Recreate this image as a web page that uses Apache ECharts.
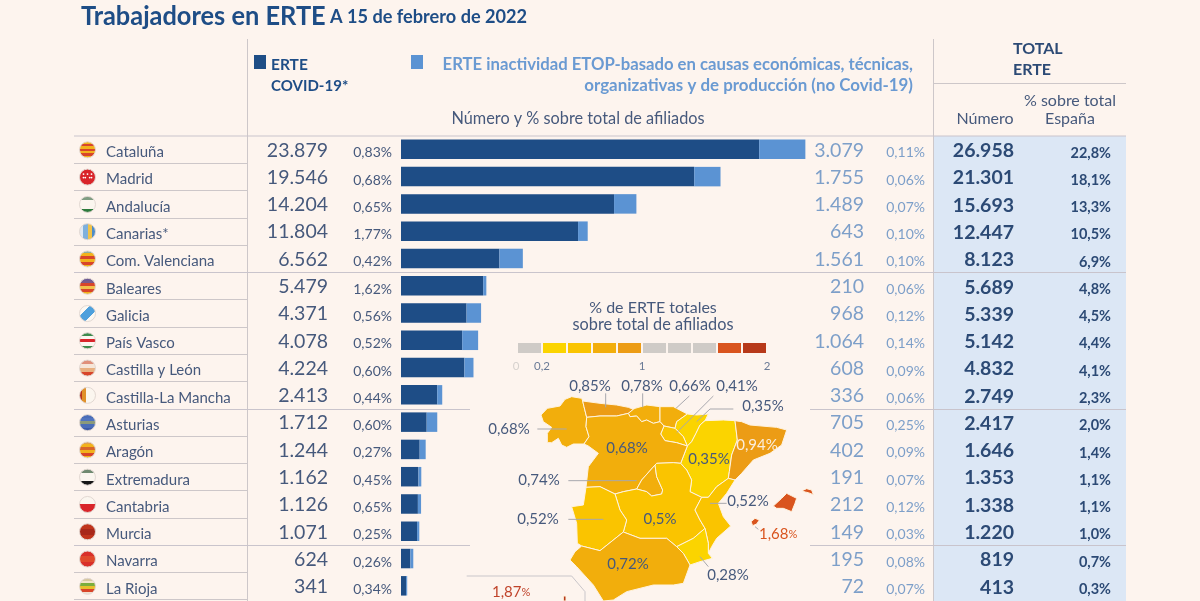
<!DOCTYPE html>
<html><head><meta charset="utf-8">
<style>html,body{margin:0;padding:0;background:#fdf4ee;overflow:hidden}#c{width:1200px;height:601px}</style>
<script src="https://cdn.jsdelivr.net/npm/echarts@6/dist/echarts.min.js"></script></head>
<body><div id="c"></div>
<script>
const categories=['Cataluña','Madrid','Andalucía','Canarias*','Com. Valenciana','Baleares','Galicia','País Vasco','Castilla y León','Castilla-La Mancha','Asturias','Aragón','Extremadura','Cantabria','Murcia','Navarra','La Rioja'];
const covid=[23879,19546,14204,11804,6562,5479,4371,4078,4224,2413,1712,1244,1162,1126,1071,624,341];
const covidPct=['0,83%','0,68%','0,65%','1,77%','0,42%','1,62%','0,56%','0,52%','0,60%','0,44%','0,60%','0,27%','0,45%','0,65%','0,25%','0,26%','0,34%'];
const etop=[3079,1755,1489,643,1561,210,968,1064,608,336,705,402,191,212,149,195,72];
const etopPct=['0,11%','0,06%','0,07%','0,10%','0,10%','0,06%','0,12%','0,14%','0,09%','0,06%','0,25%','0,09%','0,07%','0,12%','0,03%','0,08%','0,07%'];
const total=[26958,21301,15693,12447,8123,5689,5339,5142,4832,2749,2417,1646,1353,1338,1220,819,413];
const totalPct=['22,8%','18,1%','13,3%','10,5%','6,9%','4,8%','4,5%','4,4%','4,1%','2,3%','2,0%','1,4%','1,1%','1,1%','1,0%','0,7%','0,3%'];
const mapRegions=['Cataluña','Castilla y León','Andalucía','Canarias','Com. Valenciana','Baleares','Galicia','País Vasco','Castilla-La Mancha','Asturias','Aragón','Extremadura','Cantabria','Murcia','Navarra','La Rioja','Madrid'];
const mapValues=[0.94,0.68,0.72,1.87,0.52,1.68,0.68,0.66,0.5,0.85,0.35,0.52,0.78,0.28,0.35,0.41,0.74];
const flagColors=[
 [['#f2b21c','#d8452a','#f2b21c','#d8452a','#f2b21c','#d8452a','#f2b21c'],'h'],
 [['#d9252a'],'h',['#fff']],
 [['#7f9d82','#fbf6ef','#fbf6ef','#2c7a3c'],'h'],
 [['#dfe9f4','#7fb0dc','#f0c24a','#4d8cc8'],'v'],
 [['#8fb0a0','#f2b21c','#d8452a','#f2b21c','#d8452a','#f2b21c'],'h'],
 [['#6d5a94','#7a5a8a','#d8452a','#f2c04c','#d8452a','#f2b21c'],'h'],
 [['#fbf8f3','#4ea0dc','#fbf8f3'],'d'],
 [['#3d8a4c','#fbf6ef','#d9252a','#fbf6ef','#3d8a4c'],'h'],
 [['#e0907a','#f6e6d8','#e8b080','#d8452a'],'h'],
 [['#b8341e','#e0902a','#fbf6ef','#fbf6ef','#fbf6ef'],'v'],
 [['#4a6db8','#5074c0','#8a9a7a','#4a6db8','#3a5aa8'],'h'],
 [['#e0a050','#f2b21c','#d8652a','#f2b21c','#d8452a','#f2b21c'],'h'],
 [['#6f8a70','#fbf6ef','#fbf6ef','#161616'],'h'],
 [['#fbf6ef','#fbf6ef','#d9252a','#d9252a'],'h'],
 [['#c0341c','#a8281a','#c0341c'],'h'],
 [['#d9302a','#e04a2c','#d9302a'],'h'],
 [['#d8c8a0','#f3e6c8','#7cae3c','#e8c02c','#d9452a','#f0e0d0'],'h']
];
const legendPieces=[[0,.2,'#cfcbc7'],[.2,.4,'#fbd400'],[.4,.6,'#fac400'],[.6,.8,'#f2ae0c'],[.8,1,'#ec9c15'],[1,1.2,'#cfcbc7'],[1.2,1.4,'#cfcbc7'],[1.4,1.6,'#cfcbc7'],[1.6,1.8,'#d9541e'],[1.8,2.01,'#b7391a']];
const legendTicks=[['0',516,'#d6d2ce'],['0,2',542,'#6a7a96'],['1',642,'#6a7a96'],['2',767,'#6a7a96']];
const mapLabels=[['0,85%',590,386],['0,78%',642,386],['0,66%',690,386],['0,41%',737,386],['0,35%',763,406],['0,68%',509,429],['0,68%',627,448],['0,35%',709,459],['0,94%',757,445,'#fbeedd'],['0,74%',539,480],['0,52%',538,519],['0,5%',660,519],['0,52%',748,501],['0,72%',628,564],['0,28%',728,575]];
/* region outlines, in units of 1/3 px inside the map box */
const A=[380,382],B=[505,370],C=[520,358],D=[600,350],E=[600,395],Fp=[612,408],G=[645,415],H=[682,372],J=[682,468],L=[662,520],M=[585,525],Np=[530,597],O=[465,612],P=[725,622],Q=[735,715],R=[650,770],S=[490,726],T=[825,392],U=[805,565],V=[745,790],W=[690,825],X=[345,785],Y=[378,592],G0=[368,333],G1=[372,462];
const shapes={
'Galicia':[[G1,[340,462],[320,472],[305,465],[295,445],[275,458],[262,458],[262,430],[275,412],[250,395],[243,375],[262,355],[300,348],[315,328],[335,320],[365,325],G0,[372,350],A,[378,410],[387,440]]],
'Asturias':[[G0,[420,340],[470,345],[505,352],C,B,[470,378],[420,378],A,[372,350]]],
'Cantabria':[[C,[525,355],[560,345],D,[600,375],E,[580,400],[560,390],[545,395],[530,378],[510,380],B]],
'País Vasco':[[D,[640,350],H,[650,395],G,Fp,E,[600,375]]],
'Navarra':[[H,[710,375],[745,372],[735,392],[720,405],[708,430],[695,455],J,[670,440],G,[650,395]]],
'La Rioja':[[Fp,G,[670,440],J,[650,458],[615,452],[602,432]]],
'Aragón':[[[735,392],[790,390],T,[832,450],[815,495],[808,545],U,[770,590],[745,622],P,[690,605],[695,570],[680,540],L,J,[695,455],[708,430],[720,405]]],
'Cataluña':[[T,[845,395],[870,405],[950,412],[980,420],[965,465],[930,490],[880,510],[845,550],[825,570],U,[808,545],[815,495],[832,450]]],
'Castilla y León':[[A,[420,378],[470,378],B,[510,380],[530,378],[545,395],[560,390],[580,400],E,Fp,[602,432],[615,452],[650,458],J,L,[640,518],[590,520],M,[545,570],Np,[490,605],O,[420,590],Y,[385,530],[415,490],[385,468],G1,[387,440],[378,410]]],
'Madrid':[[M,[590,560],[608,600],[605,612],[575,618],[560,605],Np,[545,570]]],
'Castilla-La Mancha':[[L,[680,540],[695,570],[690,605],P,[705,660],[720,690],Q,[700,745],R,[620,745],[540,745],S,[500,690],[480,660],O,[490,605],Np,[560,605],[575,618],[605,612],[608,600],[590,560],M,[590,520],[640,518]]],
'Extremadura':[[O,[480,660],[500,690],S,[420,782],[365,768],[352,760],[350,700],[335,650],[370,645],Y,[420,590]]],
'Com. Valenciana':[[P,[745,622],[770,590],U,[825,570],[800,610],[775,640],[790,680],[812,708],[770,745],[755,770],V,[745,760],Q,[720,690],[705,660]]],
'Murcia':[[Q,[745,760],V,[757,805],[720,815],W,[670,790],R,[700,745]]],
'Andalucía':[[R,[670,790],W,[670,880],[640,885],[580,885],[500,905],[460,930],[430,933],[400,885],[350,830],[330,810],X,[365,768],[420,782],S,[540,745],[620,745]]],
'Baleares':[[[940,648],[965,625],[980,610],[1010,625],[1005,640],[995,665],[970,655],[950,655]],[[1026,602],[1040,596],[1055,600],[1060,614],[1045,608],[1035,606]],[[873,695],[885,685],[898,690],[890,702],[878,707]]],
'Canarias':[[[310,918],[318,918],[318,933],[310,933]]]
};
const geojson={type:'FeatureCollection',features:Object.keys(shapes).map(n=>({type:'Feature',properties:{name:n},geometry:{type:'MultiPolygon',coordinates:shapes[n].map(p=>[p.concat([p[0]])])}}))};
echarts.registerMap('es',geojson);

const F='Lato, "Open Sans", sans-serif';
const navy='#1e4d86',ink='#46597c',soft='#7d9fc9',deep='#2c4a75',lineC='#cdc7c9';
const fmt=v=>String(v).replace(/\B(?=(\d{3})+$)/g,'.');
const chart=echarts.init(document.getElementById('c'),null,{renderer:'canvas'});
const TOP=135.7,ROW=27.28,N=categories.length;
function textCol(arr,x,align,font,fill,dy){
 return {type:'custom',coordinateSystem:'cartesian2d',silent:true,z:5,clip:false,
  data:arr.map((t,i)=>[0,i,t]),
  renderItem:(p,api)=>{const y=api.coord([0,api.value(1)])[1];
   return {type:'text',x:x,y:y+(dy||0),style:{text:arr[api.value(1)],align:align,verticalAlign:'middle',font:font,fill:fill}};}};
}
const dots=[[-4,-3],[0,-3],[4,-3],[-2.2,0.5],[2.2,0.5],[-4,0.5],[4,0.5]];
const flagSeries={type:'custom',coordinateSystem:'cartesian2d',silent:true,z:5,clip:false,data:categories.map((c,i)=>[0,i]),
 renderItem:(p,api)=>{const i=api.value(1),y=api.coord([0,i])[1],f=flagColors[i],cols=f[0],stops=[];
  cols.forEach((c,k)=>{stops.push({offset:k/cols.length,color:c});stops.push({offset:(k+1)/cols.length,color:c});});
  const g=f[1]==='h'?[0,0,0,1]:f[1]==='v'?[0,0,1,0]:[0,0,1,1];
  const kids=[{type:'circle',shape:{cx:87.5,cy:y+0.5,r:8},style:{fill:new echarts.graphic.LinearGradient(g[0],g[1],g[2],g[3],stops),stroke:'#e2d8d2',lineWidth:1}}];
  if(f[2])dots.forEach(d=>kids.push({type:'circle',shape:{cx:87.5+d[0],cy:y+0.5+d[1],r:.9},style:{fill:f[2][0]}}));
  return {type:'group',children:kids};}};

const Z=(x,y)=>[460+x/3,290+y/3];
const leaders=[[[437,310],[437,352]],[[548,310],[548,352]],[[688,318],[648,355]],[[760,318],[650,428]],[[820,357],[750,357],[710,395]],[[232,417],[320,417]],[[325,572],[530,572]],[[325,688],[430,688]],[[800,640],[750,640]],[[745,830],[720,800]],[[895,718],[885,710]]];
const gfx=[];
const rect=(x,y,w,h,fill,z)=>gfx.push({type:'rect',z:z||0,silent:true,shape:{x,y,width:w,height:h},style:{fill}});
const line=(x1,y1,x2,y2,c,w,z)=>gfx.push({type:'line',z:z||1,silent:true,shape:{x1,y1,x2,y2},style:{stroke:c,lineWidth:w||1}});
const txt=(t,x,y,font,fill,align,sx)=>gfx.push({type:'text',z:8,silent:true,x:x,y:y,scaleX:sx||1,style:{text:t,font,fill,align:align||'left',verticalAlign:'middle'}});
rect(933,136,193,465,'#dce7f5');
line(247.5,39,247.5,601,lineC);line(933.5,39,933.5,601,lineC);
line(933,83.5,1126,83.5,lineC);
line(74,136,1126,136,'#c9c4cc',1.2);
for(let i=1;i<N+1;i++){const y=Math.round(TOP+i*ROW)+.5;
 if(i%5===0){ if(i===5)line(74,y,1126,y,'#c9c4cc',1.2); else if(i<N){line(74,y,470,y,'#c9c4cc',1.2);line(810,y,1126,y,'#c9c4cc',1.2);} }
 else line(74,y,247,y,lineC,1.2);
}
leaders.forEach(l=>{for(let k=0;k<l.length-1;k++){const a=Z(l[k][0],l[k][1]),b=Z(l[k+1][0],l[k+1][1]);line(a[0],a[1],b[0],b[1],'#a8a8ae',1,6);}});
[[[20,858],[335,858],[375,905],[375,933]]].forEach(l=>{for(let k=0;k<l.length-1;k++){const a=Z(l[k][0],l[k][1]),b=Z(l[k+1][0],l[k+1][1]);line(a[0],a[1],b[0],b[1],'#c9c6ca',1,6);}});
txt('Trabajadores en ERTE',81,16,'bold 27px '+F,navy,'left',0.94);
txt('A 15 de febrero de 2022',330,17,'bold 19px '+F,navy,'left',0.955);
rect(254,55,12,14,navy,2);rect(411,55,12,14,'#5b93d3',2);
txt('ERTE',271,65,'bold 15.5px '+F,navy);txt('COVID-19*',271,86,'bold 15.5px '+F,navy,'left',.97);
txt('ERTE inactividad ETOP-basado en causas económicas, técnicas,',913,65,'bold 16.7px '+F,'#6a9ad2','right');
txt('organizativas y de producción (no Covid-19)',913,86,'bold 16.9px '+F,'#6a9ad2','right');
txt('Número y % sobre total de afiliados',578,119,'16.3px '+F,ink,'center');
txt('TOTAL',1013,49,'bold 16px '+F,deep);txt('ERTE',1013,70,'bold 16px '+F,deep);
txt('Número',985,119,'16px '+F,ink,'center');
txt('% sobre total',1070,101,'16px '+F,ink,'center');txt('España',1070,119,'16px '+F,ink,'center');
txt('% de ERTE totales',653,308,'16px '+F,ink,'center');txt('sobre total de afiliados',653,325,'16.3px '+F,ink,'center');
legendTicks.forEach(t=>txt(t[0],t[1],366,'11.5px '+F,t[2],'center'));
mapLabels.forEach(m=>txt(m[0],m[1],m[2],'15px '+F,m[3]||ink,'center'));
gfx.push({type:'text',z:8,silent:true,x:759,y:534,style:{rich:{a:{font:'15px '+F,fill:'#d9541e'},b:{font:'11px '+F,fill:'#d9541e'}},text:'{a|1,68}{b|%}',align:'left',verticalAlign:'middle'}});
gfx.push({type:'text',z:8,silent:true,x:492,y:592,style:{rich:{a:{font:'15px '+F,fill:'#c0432a'},b:{font:'11px '+F,fill:'#c0432a'}},text:'{a|1,87}{b|%}',align:'left',verticalAlign:'middle'}});

chart.setOption({
 animation:false,backgroundColor:'#fdf4ee',
 graphic:{elements:gfx},
 grid:{left:401,top:TOP,width:450,height:ROW*N,containLabel:false},
 xAxis:{type:'value',min:0,max:30000,show:false},
 yAxis:{type:'category',inverse:true,data:categories,show:false},
 visualMap:{type:'piecewise',seriesIndex:0,left:518,top:343,orient:'horizontal',itemWidth:23,itemHeight:10,itemGap:2,itemSymbol:'rect',showLabel:false,selectedMode:false,hoverLink:false,padding:0,
  pieces:legendPieces.map(p=>({min:p[0],max:p[1],color:p[2],symbol:'rect'}))},
 series:[
  {type:'map',map:'es',silent:true,z:3,projection:{project:p=>[p[0],p[1]],unproject:p=>[p[0],p[1]]},
   boundingCoords:[[0,0],[1110,933]],left:460,top:290,width:370,height:311,roam:false,selectedMode:false,
   label:{show:false},emphasis:{disabled:true},
   itemStyle:{borderColor:'#fff3df',borderWidth:1,areaColor:'#cfcbc7'},
   data:mapRegions.map((n,i)=>({name:n,value:mapValues[i]}))},
  {type:'bar',stack:'e',data:covid,barWidth:19.5,itemStyle:{color:navy},silent:true,z:4},
  {type:'bar',stack:'e',data:etop,barWidth:19.5,itemStyle:{color:'#5b93d3'},silent:true,z:4},
  flagSeries,
  textCol(categories,106,'left','15px '+F,ink,3),
  textCol(covid.map(fmt),328,'right','19.5px '+F,ink,1),
  textCol(covidPct,392,'right','14px '+F,ink,3.5),
  textCol(etop.map(fmt),864,'right','19.5px '+F,soft,1),
  textCol(etopPct,925,'right','14px '+F,soft,3.5),
  textCol(total.map(fmt),1014,'right','bold 19.5px '+F,deep,1.5),
  textCol(totalPct,1111,'right','bold 14.5px '+F,deep,3.5)
 ]
});
</script></body></html>
